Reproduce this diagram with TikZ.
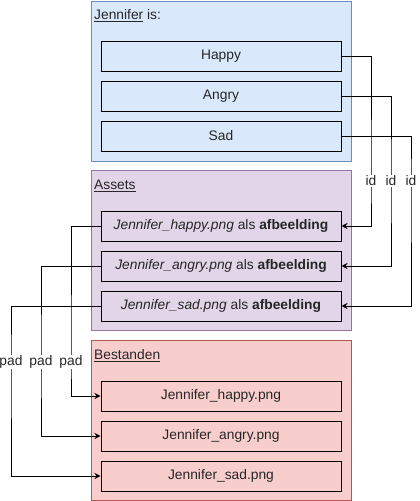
\documentclass[tikz,border=0pt]{standalone}
\usepackage{fontspec}
\setmainfont{Liberation Sans}
\usepackage{xcolor}
\usetikzlibrary{arrows.meta}

\definecolor{blueFill}{HTML}{DAE8FC}
\definecolor{blueLine}{HTML}{6C8EBF}
\definecolor{purpleFill}{HTML}{E1D5E7}
\definecolor{purpleLine}{HTML}{9673A6}
\definecolor{redFill}{HTML}{F8CECC}
\definecolor{redLine}{HTML}{B85450}
\definecolor{textGray}{HTML}{262626}

\begin{document}
\begin{tikzpicture}[
        x=1pt, y=-1pt,
        font=\fontsize{13.8}{16}\selectfont,
        group/.style 2 args={rectangle, draw=#1, fill=#2, line width=1pt, minimum width=260pt, minimum height=160pt},
        item/.style={rectangle, draw=black, fill=#1, line width=1pt, minimum width=240pt, minimum height=30pt, inner sep=0pt, text=textGray},
        title/.style={anchor=west, inner sep=0pt, text=textGray},
        lbl/.style={fill=white, inner sep=1pt, text=textGray},
        link/.style={draw=black, line width=1pt, -{Stealth[length=6pt, width=6pt, inset=2pt]}}
    ]
    \useasboundingbox (0,0) rectangle (420,501);

    % Containers
    \node[group={blueLine}{blueFill}] (state) at (221,81) {};
    \node[group={purpleLine}{purpleFill}] (assets) at (221,250) {};
    \node[group={redLine}{redFill}] (files) at (221,420) {};

    \node[title] (stateTitle) at (94,16) {\underline{Jennifer} is:};
    \node[title] (assetsTitle) at (94,186) {\underline{Assets}};
    \node[title] (filesTitle) at (94,356) {\underline{Bestanden}};

    % States
    \foreach \name/\lbl [count=\i] in {happy/Happy, angry/Angry, sad/Sad} {
        \node[item=blueFill] (\name) at (221, 16+40*\i) {\lbl};
    }

    % Assets
    \foreach \name [count=\i] in {happy, angry, sad} {
        \node[item=purpleFill] (img\name) at (221, 186+40*\i) {\textit{Jennifer\_\name.png} als \textbf{afbeelding}};
    }

    % Files
    \foreach \name [count=\i] in {happy, angry, sad} {
        \node[item=redFill] (file\name) at (221, 356+40*\i) {Jennifer\_\name.png};
    }

    % id links (state -> asset)
    \foreach \name/\x in {happy/371, angry/391, sad/411} {
        \draw[link] (\name.east) -| (\x,181) node[lbl] {id} |- (img\name.east);
    }

    % pad links (asset -> file)
    \foreach \name/\x in {happy/71, angry/41, sad/11} {
        \draw[link] (img\name.west) -| (\x,362) node[lbl] {pad} |- (file\name.west);
    }
\end{tikzpicture}
\end{document}
